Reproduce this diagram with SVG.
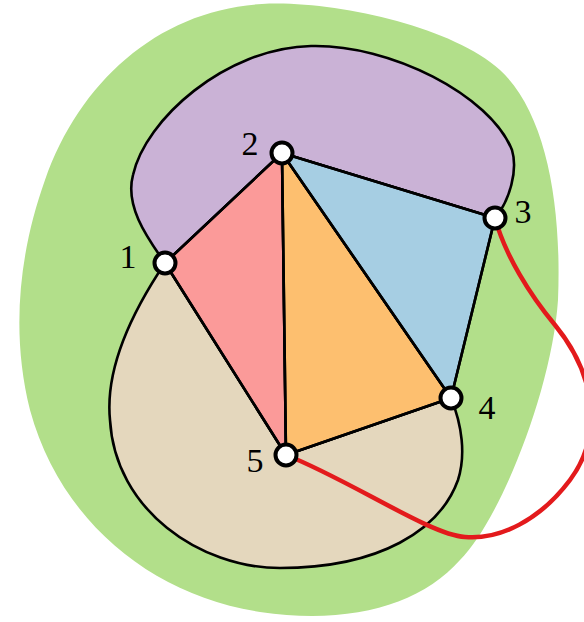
<svg xmlns="http://www.w3.org/2000/svg" width="584" height="622" viewBox="0 0 584 622">
  <style>
    .face { stroke: #000; stroke-width: 2.6; stroke-linejoin: round; }
    .edge { stroke: #000; stroke-width: 2.6; fill: none; stroke-linecap: round; }
    .red { stroke: #e31a1c; stroke-width: 4.5; fill: none; stroke-linecap: round; }
    .node circle { fill: #fff; stroke: #000; stroke-width: 4; }
    .lbl { font-family: "Liberation Serif", "DejaVu Serif", serif; font-size: 34px; fill: #000; text-anchor: middle; }
  </style>
  <g id="outer-face">
    <path fill="#b2df8a" d="M262,4 C330,0 450,25 500,70 C545,112 562,200 558,300 C552,390 500,520 460,560 C420,605 350,625 260,612 C150,595 60,520 30,410 C10,330 20,250 45,180 C80,80 160,10 262,4 Z"/>
  </g>
  <g id="faces">
    <path class="face" fill="#cab2d6" d="M165,263 C145,235 125,205 133,175 C145,120 225,48 311,46 C390,44 490,95 512,150 C518,170 510,200 495,218 L282,153 Z"/>
    <path class="face" fill="#e4d7bd" d="M165,263 C130,315 105,370 110,420 C115,510 200,568 280,568 C380,568 440,530 458,480 C466,455 462,425 451,398 L286,455 Z"/>
    <path class="face" fill="#fb9a99" d="M165,263 L282,153 L286,455 Z"/>
    <path class="face" fill="#fdbf6f" d="M282,153 L451,398 L286,455 Z"/>
    <path class="face" fill="#a6cee3" d="M282,153 L495,218 L451,398 Z"/>
  </g>
  <g id="connectors">
    <line class="edge" x1="165" y1="263" x2="282" y2="153"/>
    <line class="edge" x1="282" y1="153" x2="495" y2="218"/>
    <line class="edge" x1="495" y1="218" x2="451" y2="398"/>
    <line class="edge" x1="451" y1="398" x2="286" y2="455"/>
    <line class="edge" x1="286" y1="455" x2="165" y2="263"/>
    <line class="edge" x1="282" y1="153" x2="286" y2="455"/>
    <line class="edge" x1="282" y1="153" x2="451" y2="398"/>
    <path class="red" d="M495,218 C505,255 530,295 555,325 C600,380 600,440 570,480 C540,520 500,540 465,537 C430,535 350,480 286,455"/>
  </g>
  <g id="node1" class="node"><circle cx="165" cy="263" r="10.5"/><text class="lbl" x="128" y="268">1</text></g>
  <g id="node2" class="node"><circle cx="282" cy="153" r="10.5"/><text class="lbl" x="250" y="155">2</text></g>
  <g id="node3" class="node"><circle cx="495" cy="218" r="10.5"/><text class="lbl" x="523" y="223">3</text></g>
  <g id="node4" class="node"><circle cx="451" cy="398" r="10.5"/><text class="lbl" x="487" y="419">4</text></g>
  <g id="node5" class="node"><circle cx="286" cy="455" r="10.5"/><text class="lbl" x="255" y="472">5</text></g>
</svg>
